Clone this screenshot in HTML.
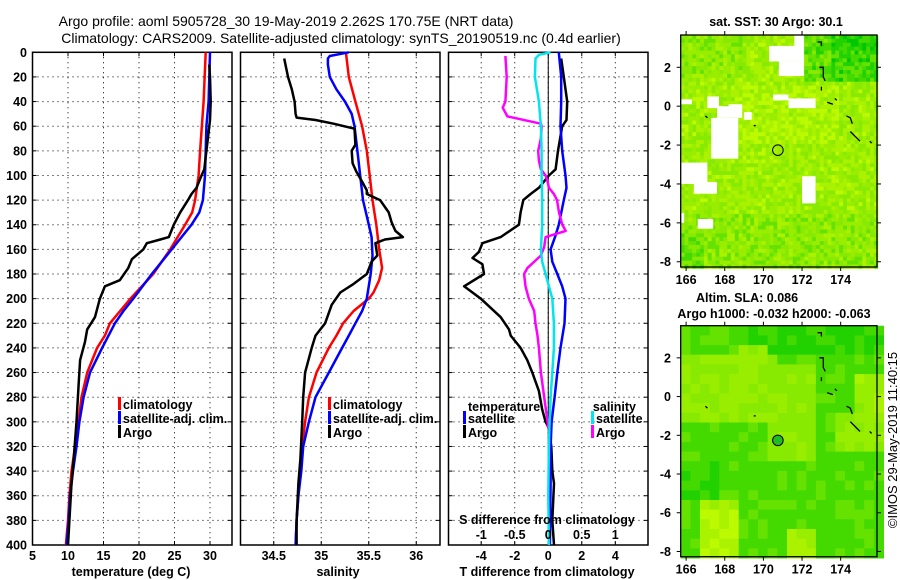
<!DOCTYPE html>
<html><head><meta charset="utf-8"><style>
html,body{margin:0;padding:0;background:#fff;}
svg{display:block;font-family:"Liberation Sans",Arial,sans-serif;}
.t{font-size:12.5px;font-weight:bold;fill:#000;}
.ttl{font-size:14px;fill:#000;}
</style></head><body>
<svg id="fig" width="900" height="580" viewBox="0 0 900 580" xmlns="http://www.w3.org/2000/svg">
<text class="ttl" x="286" y="26" text-anchor="middle">Argo profile: aoml 5905728_30 19-May-2019 2.262S 170.75E (NRT data)</text>
<text class="ttl" x="341" y="43" text-anchor="middle">Climatology: CARS2009. Satellite-adjusted climatology: synTS_20190519.nc (0.4d earlier)</text>
<g id="g"></g>
</svg>
<script>
// ---- profile data (depth in m) ----
const tDepthClim = [0,40,80,100,120,130,140,160,180,200,220,230,240,260,280,300,320,340,360,380,400];
const tClim      = [29.4,29.1,28.6,28.4,27.9,27.5,26.5,24.4,22.0,18.8,15.9,15.2,14.1,12.7,11.9,11.5,11.0,10.5,10.2,10.0,9.7];
const tDepthSat  = [0,20,40,60,80,100,120,130,140,160,180,200,210,220,240,260,280,300,320,340,360,380,400];
const tSat       = [30.0,29.9,29.8,29.5,29.4,29.3,29.0,28.5,27.4,24.6,21.8,19.2,17.8,16.6,14.8,13.1,12.2,11.6,11.2,10.7,10.3,10.1,9.8];
const tDepthArgo = [10,20,40,55,65,80,95,100,110,115,120,130,140,150,152,155,160,168,175,185,190,200,215,225,235,250,270,300,330,350,370,400];
const tArgo      = [29.9,30.0,30.1,30.0,29.8,29.5,29.2,28.8,28.1,27.4,26.9,25.8,24.9,24.2,23.0,21.1,20.6,19.0,18.5,17.3,15.2,14.5,13.8,12.7,12.4,11.7,11.5,11.2,10.8,10.5,10.3,10.0];

const sDepthClim = [0,20,40,60,80,100,120,140,160,175,185,195,200,210,220,230,240,260,280,300,320,340,360,380,400];
const sClim      = [35.26,35.29,35.36,35.43,35.48,35.51,35.54,35.58,35.61,35.64,35.61,35.55,35.50,35.34,35.23,35.16,35.08,34.95,34.87,34.83,34.80,34.78,34.76,34.74,34.73];
const sDepthSat  = [0,3,5,10,20,30,40,50,60,80,100,120,140,150,165,180,200,210,220,230,240,260,280,300,320,340,360,380,400];
const sSat       = [35.29,35.09,35.07,35.07,35.09,35.16,35.25,35.32,35.35,35.38,35.41,35.44,35.50,35.53,35.54,35.52,35.48,35.43,35.36,35.29,35.22,35.08,34.94,34.87,34.81,34.79,34.76,34.74,34.73];
const sDepthArgo = [5,20,30,40,50,53,55,58,62,75,80,90,97,105,112,115,120,130,138,145,150,152,155,165,170,180,188,195,205,220,230,240,260,280,300,330,350,380,400];
const sArgo      = [34.61,34.65,34.69,34.72,34.73,34.74,34.94,35.13,35.35,35.36,35.32,35.33,35.37,35.43,35.48,35.48,35.62,35.71,35.74,35.78,35.86,35.67,35.57,35.59,35.53,35.48,35.34,35.20,35.11,35.04,34.94,34.90,34.83,34.81,34.80,34.78,34.76,34.74,34.74];

const dtDepthSat = [0,20,40,60,80,100,110,120,140,150,160,170,180,190,200,220,240,260,280,300,320,350,400];
const dtSat      = [0.63,0.77,0.77,0.73,0.83,1.03,1.09,0.93,0.63,0.40,0.14,0.24,0.54,0.83,1.03,0.97,0.73,0.54,0.38,0.20,0.14,0.14,0.10];
const dtDepthArgo= [5,20,40,55,60,80,95,100,110,115,120,130,140,150,155,162,167,172,180,190,200,215,225,230,240,250,260,275,290,300,305,320,340,350,380,400];
const dtArgo     = [0.77,0.93,1.13,1.09,0.83,0.58,0.44,0.04,-0.56,-1.05,-1.49,-1.65,-1.75,-2.84,-3.93,-4.13,-4.52,-3.93,-3.83,-5.02,-4.03,-2.84,-2.34,-2.24,-1.65,-1.25,-0.95,-0.56,-0.36,-0.16,0.04,0.18,0.24,0.34,0.24,0.34];
const dsDepthSat = [0,2,5,20,40,60,80,100,120,140,160,170,180,190,200,220,240,260,280,300,320,360,400];
const dsSat      = [0.035,-0.14,-0.19,-0.20,-0.14,-0.11,-0.10,-0.10,-0.09,-0.09,-0.11,-0.09,-0.04,0.01,0.06,0.085,0.085,0.06,0.035,0.02,0.01,0.0,0.01];
const dsDepthArgo= [3,20,40,45,52,58,60,70,80,88,95,100,105,110,115,120,130,140,145,150,158,165,175,180,190,200,210,220,230,240,260,280,300,305];
const dsArgo     = [-0.64,-0.62,-0.64,-0.68,-0.61,-0.11,-0.10,-0.11,-0.15,-0.14,-0.11,-0.04,-0.01,0.01,0.085,0.13,0.16,0.21,0.26,-0.04,-0.06,-0.11,-0.31,-0.36,-0.34,-0.29,-0.21,-0.19,-0.16,-0.14,-0.11,-0.06,-0.01,0.0];

const depthTicks = [0,20,40,60,80,100,120,140,160,180,200,220,240,260,280,300,320,340,360,380,400];
const tTicks = [5,10,15,20,25,30];
const sTicks = [34.5,35,35.5,36];
const dtTicks = [-4,-2,0,2,4];
const dsTicks = [-1,-0.5,0,0.5,1];
const dsTickLabels = ["-1","-0.5","0","0.5","1"];
const lonTicks = [166,168,170,172,174];
const latTicks = [2,0,-2,-4,-6,-8];
const argoLon = 170.75, argoLat = -2.262;

const NS='http://www.w3.org/2000/svg';
const G=document.getElementById('g');
function el(tag,attrs,parent){const e=document.createElementNS(NS,tag);for(const k in attrs)e.setAttribute(k,attrs[k]);(parent||G).appendChild(e);return e;}
function txt(s,x,y,anchor,parent){const e=el('text',{x:x,y:y,'text-anchor':anchor||'middle',class:'t'},parent);e.textContent=s;return e;}

const TOP=52.3,BOT=545;
const yD=d=>TOP+(BOT-TOP)*d/400;

function panel(name,x0,x1,vmin,vmax){
  const g=el('g',{});
  
  
  const sx=v=>x0+(x1-x0)*(v-vmin)/(vmax-vmin);
  return {g,sx,x0,x1};
}
function frame(p,xt,xtLabels,grid){
  // grid
  depthTicks.forEach(d=>{ if(d>0&&d<400){const l=el('line',{x1:p.x0,x2:p.x1,y1:yD(d),y2:yD(d),stroke:'#000','stroke-width':1,'stroke-dasharray':'1 4'},p.g);
    }
    el('line',{x1:p.x0,x2:p.x0+4,y1:yD(d),y2:yD(d),stroke:'#000'},p.g);
    el('line',{x1:p.x1-4,x2:p.x1,y1:yD(d),y2:yD(d),stroke:'#000'},p.g);});
  xt.forEach(v=>{const x=p.sx(v);
    const l=el('line',{x1:x,x2:x,y1:TOP,y2:BOT,stroke:'#000','stroke-width':1,'stroke-dasharray':'1 4'},p.g);
    
    el('line',{x1:x,x2:x,y1:TOP,y2:TOP+4,stroke:'#000'},p.g);el('line',{x1:x,x2:x,y1:BOT-4,y2:BOT,stroke:'#000'},p.g);
    if(xtLabels){const t=txt(xtLabels(v),x,560,'middle',p.g);}});
  const r=el('rect',{x:p.x0,y:TOP,width:p.x1-p.x0,height:BOT-TOP,fill:'none',stroke:'#000','stroke-width':1.5},p.g);
  
}
function series(p,name,depths,vals,color,w){
  const pts=depths.map((d,i)=>p.sx(vals[i]).toFixed(1)+','+yD(d).toFixed(1)).join(' ');
  const l=el('polyline',{points:pts,fill:'none',stroke:color,'stroke-width':w||2.5,'stroke-linejoin':'round'},p.g);
  
  
}
function legendRow(p,label,color,x,y){
  const g=el('g',{},p.g);
  
  
  el('rect',{x:x,y:y-10,width:3,height:13,fill:color},g);
  txt(label,x+5,y+2,'start',g);
}

// panel 1 temperature
const p1=panel('temperature-panel',32.5,232,5,33.1);
frame(p1,tTicks,v=>String(v));
depthTicks.forEach(d=>{const t=txt(String(d),27,yD(d)+4.5,'end',p1.g);});
series(p1,'temperature-climatology-line',tDepthClim,tClim,'#ff0000');
series(p1,'temperature-satellite-adj-line',tDepthSat,tSat,'#0000ff');
series(p1,'temperature-argo-line',tDepthArgo,tArgo,'#000000');
legendRow(p1,'climatology','#ff0000',118,407);
legendRow(p1,'satellite-adj. clim.','#0000ff',118,421);
legendRow(p1,'Argo','#000000',118,435);
{const t=txt('temperature (deg C)',131,576,'middle',p1.g);}

// panel 2 salinity
const p2=panel('salinity-panel',240.5,440,34.15,36.25);
frame(p2,sTicks,v=>String(v));
series(p2,'salinity-climatology-line',sDepthClim,sClim,'#ff0000');
series(p2,'salinity-satellite-adj-line',sDepthSat,sSat,'#0000ff');
series(p2,'salinity-argo-line',sDepthArgo,sArgo,'#000000');
legendRow(p2,'climatology','#ff0000',328,407);
legendRow(p2,'satellite-adj. clim.','#0000ff',328,421);
legendRow(p2,'Argo','#000000',328,435);
{const t=txt('salinity',338,576,'middle',p2.g);}

// panel 3 differences
const p3=panel('difference-panel',448.5,648,-5.95,5.95);
const p3s={g:p3.g,x0:p3.x0,x1:p3.x1,sx:v=>p3.x0+(p3.x1-p3.x0)*(v+1.49)/2.98};
frame(p3,dtTicks,v=>String(v));
el('line',{x1:p3.sx(0),x2:p3.sx(0),y1:TOP,y2:BOT,stroke:'#000','stroke-width':1},p3.g);
series(p3,'t-diff-argo-line',dtDepthArgo,dtArgo,'#000000');
series(p3,'t-diff-satellite-line',dtDepthSat,dtSat,'#0000ff');
series(p3s,'s-diff-argo-line',dsDepthArgo,dsArgo,'#ff00ff');
series(p3s,'s-diff-satellite-line',dsDepthSat,dsSat,'#00e5ee');
{const t=txt('temperature',468,411,'start',p3.g);}
{const t=txt('salinity',636,411,'end',p3.g);}
legendRow(p3,'satellite','#0000ff',463,421);
legendRow(p3,'Argo','#000000',463,435);
legendRow(p3,'satellite ','#00e5ee',591,421);
legendRow(p3,'Argo ','#ff00ff',591,435);
{const t=txt('S difference from climatology',547,524,'middle',p3.g);}
dsTicks.forEach((v,i)=>{const t=txt(dsTickLabels[i],p3s.sx(v),539,'middle',p3.g);});
{const t=txt('T difference from climatology',547,576,'middle',p3.g);}

// ---- maps ----
const MX0=680.7,MX1=877,LON0=165.72,LON1=175.88,LAT0=3.66,LAT1=-8.27;
function hsh(i,j,s){let h=(i*374761393+j*668265263+s*1442695041)|0;h=(h^(h>>>13))*1274126177|0;h=h^(h>>>16);return ((h>>>0)%1000)/1000;}
function map(name,y0,y1,kind){
  const g=el('g',{});
  
  
  const sx=lon=>MX0+(MX1-MX0)*(lon-LON0)/(LON1-LON0);
  const sy=lat=>y0+(y1-y0)*(lat-LAT0)/(LAT1-LAT0);
  const st=kind==='sst'?0.2:0.5;
  const pal=['#00c800','#22d200','#44da00','#66e200','#88ea00','#99ee00','#aaf200','#bbfa00'];
  for(let lon=LON0;lon<LON1-0.01;lon+=st){
    for(let lat=LAT0;lat>LAT1+0.01;lat-=st){
      const i=Math.round((lon-LON0)/st),j=Math.round((LAT0-lat)/st);
      const cl=lon+st/2,ct=lat-st/2;let lv;
      if(kind==='sst'){
        lv=5.2;
        if(cl>172.2&&ct>1.3) lv=1.8+(cl<173.5?1:0)-(ct>2.8&&cl>174?1:0);
        if(ct<-5.5) lv-=0.8;
        if(cl<167&&ct<-6.5) lv-=1.2;
        if(ct>-2&&ct<1&&cl>168.5&&cl<174) lv+=0.8;
        if(ct>1.5&&cl<169) lv-=0.8;
        lv+= (hsh(i,j,1)-0.5)*3.2;
      } else {
        lv=2.2;
        if(ct>2.3) lv=1.2+(cl<169?1:0);
        if(ct<2.3&&ct>-1.4&&cl<170.5) lv=4.6;
        if(ct<1.5&&ct>-3.2&&cl>170.3&&cl<172.6) lv=4.2;
        if(ct<2.6&&ct>0&&cl>168.5&&cl<170) lv=5;
        if(ct<-1&&ct>-2.8&&cl>173.7) lv=4.6;
        if(ct<1.2&&ct>-1&&cl>174.8) lv=5;
        if(ct<-5.3&&cl>166.5&&cl<168.8) lv=5.6+(ct<-6?0.8:0);
        if(ct<-6.8&&cl>171&&cl<172.6) lv=5.4;
        if(ct<-3.5&&ct>-5.5&&cl<167.5) lv=1.4;
        lv+=(hsh(i,j,2)-0.5)*1.2;
      }
      lv=Math.max(0,Math.min(7,Math.round(lv)));
      el('rect',{x:sx(lon).toFixed(1),y:sy(lat).toFixed(1),width:(sx(lon+st)-sx(lon)+0.4).toFixed(1),height:(sy(lat-st)-sy(lat)+0.4).toFixed(1),fill:pal[lv]},g);
    }
  }
  if(kind==='sst'){
    const holes=[[170.3,3.1,172.1,2.3],[170.8,2.3,172.1,1.55],[171.6,3.66,172.1,3.0],[165.72,0.35,166.3,0.1],[167.1,0.5,167.7,-0.1],[167.6,0,168.9,-0.6],[167.3,-0.6,168.7,-2.7],[168.2,0.1,168.9,-0.3],[165.72,-2.9,167.1,-4.0],[166.4,-3.9,167.6,-4.5],[172.0,-3.6,172.7,-5.0],[166.6,-5.8,167.4,-6.3],[171.3,0.4,172.7,-0.1],[170.5,0.6,171.3,0.3],[169.0,-0.3,169.4,-0.7],[165.72,-5.5,165.9,-6.0]];
    holes.forEach(h=>{const r=el('rect',{x:sx(h[0]),y:sy(h[1]),width:sx(h[2])-sx(h[0]),height:sy(h[3])-sy(h[1]),fill:'#fff'},g);
      });
  }
  // islands
  const isl=[[[172.8,3.3],[173.0,3.3],[173.0,3.1]],[[172.9,2.0],[173.1,2.0],[173.1,1.5],[173.2,1.3]],[[173.0,1.0],[173.0,0.8]],[[173.3,0.2],[173.6,0.1]],[[173.7,0.4],[173.8,0.3]],[[174.3,-0.5],[174.5,-0.6],[174.6,-0.9]],[[174.5,-1.3],[174.8,-1.6],[175.0,-1.8]],[[175.5,-1.8],[175.6,-1.9]],[[167.0,-0.5],[167.1,-0.6]],[[169.5,-1.0],[169.6,-1.0]]];
  isl.forEach(s=>{const l=el('polyline',{points:s.map(p=>sx(p[0]).toFixed(1)+','+sy(p[1]).toFixed(1)).join(' '),fill:'none',stroke:'#000','stroke-width':1.3},g);
    });
  const c=el('circle',{cx:sx(argoLon),cy:sy(argoLat),r:5.3,fill:kind==='sst'?'none':'#22bb22',stroke:'#000','stroke-width':1},g);
  
  const fr=el('rect',{x:MX0,y:y0,width:MX1-MX0,height:y1-y0,fill:'none',stroke:'#000','stroke-width':1.3},g);
  
  lonTicks.forEach(v=>{const x=sx(v);el('line',{x1:x,x2:x,y1:y0-4,y2:y0,stroke:'#000'},g);el('line',{x1:x,x2:x,y1:y1,y2:y1+4,stroke:'#000'},g);
    const t=txt(String(v),x,y1+17,'middle',g);});
  latTicks.forEach(v=>{const y=sy(v);el('line',{x1:MX0-4,x2:MX0,y1:y,y2:y,stroke:'#000'},g);el('line',{x1:MX1,x2:MX1+4,y1:y,y2:y,stroke:'#000'},g);
    const t=txt(String(v),671,y+4.5,'end',g);});
  return g;
}
map('sst-map',35,267,'sst');
map('sla-map',325.7,556.7,'sla');
{const t=txt('sat. SST: 30 Argo: 30.1',776,26,'middle');}
{const t=txt('Altim. SLA: 0.086',747,302,'middle');}
{const t=txt('Argo h1000: -0.032 h2000: -0.063',774,318,'middle');}
{const t=el('text',{x:0,y:0,'text-anchor':'middle',transform:'translate(897,440) rotate(-90)',style:'font-size:13px;fill:#000'});t.textContent='\u00A9IMOS 29-May-2019 11:40:15';
 }
</script>
</body></html>
